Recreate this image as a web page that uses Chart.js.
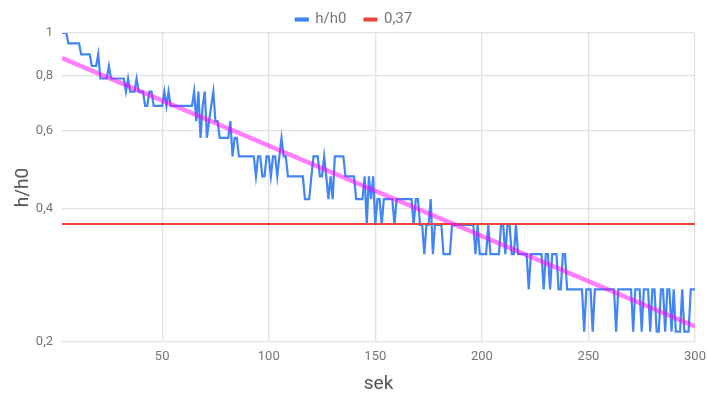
<!DOCTYPE html>
<html><head><meta charset="utf-8">
<script src="https://cdn.jsdelivr.net/npm/chart.js@4"></script>
<style>html,body{margin:0;padding:0;background:#fff}canvas{display:block}</style>
</head><body>
<canvas id="c" width="708" height="394"></canvas>
<script>
const sek = [
  3,4,5,6,7,8,9,10,11,12,
  13,14,15,16,17,18,19,20,21,22,
  23,24,25,26,27,28,29,30,31,32,
  33,34,35,36,37,38,39,40,41,42,
  43,44,45,46,47,48,49,50,51,52,
  53,54,55,56,57,58,59,60,61,62,
  63,64,65,66,67,68,69,70,71,72,
  73,74,75,76,77,78,79,80,81,82,
  83,84,85,86,87,88,89,90,91,92,
  93,94,95,96,97,98,99,100,101,102,
  103,104,105,106,107,108,109,110,111,112,
  113,114,115,116,117,118,119,120,121,122,
  123,124,125,126,127,128,129,130,131,132,
  133,134,135,136,137,138,139,140,141,142,
  143,144,145,146,147,148,149,150,151,152,
  153,154,155,156,157,158,159,160,161,162,
  163,164,165,166,167,168,169,170,171,172,
  173,174,175,176,177,178,179,180,181,182,
  183,184,185,186,187,188,189,190,191,192,
  193,194,195,196,197,198,199,200,201,202,
  203,204,205,206,207,208,209,210,211,212,
  213,214,215,216,217,218,219,220,221,222,
  223,224,225,226,227,228,229,230,231,232,
  233,234,235,236,237,238,239,240,241,242,
  243,244,245,246,247,248,249,250,251,252,
  253,254,255,256,257,258,259,260,261,262,
  263,264,265,266,267,268,269,270,271,272,
  273,274,275,276,277,278,279,280,281,282,
  283,284,285,286,287,288,289,290,291,292,
  293,294,295,296,297,298,299,300
];
const hh0 = [
  1,1,1,0.947,0.947,0.947,0.947,0.947,0.947,0.895,
  0.895,0.895,0.895,0.895,0.842,0.842,0.842,0.895,0.789,0.789,
  0.789,0.789,0.842,0.789,0.789,0.789,0.789,0.789,0.789,0.789,
  0.737,0.789,0.737,0.737,0.737,0.789,0.737,0.737,0.737,0.684,
  0.684,0.737,0.737,0.684,0.684,0.684,0.684,0.684,0.737,0.684,
  0.737,0.684,0.684,0.684,0.684,0.684,0.684,0.684,0.684,0.684,
  0.684,0.684,0.737,0.632,0.737,0.579,0.684,0.737,0.579,0.632,
  0.684,0.737,0.632,0.632,0.579,0.579,0.579,0.579,0.579,0.632,
  0.526,0.579,0.579,0.526,0.526,0.526,0.526,0.526,0.526,0.526,
  0.526,0.474,0.526,0.526,0.474,0.474,0.526,0.526,0.474,0.526,
  0.526,0.474,0.526,0.579,0.526,0.526,0.474,0.474,0.474,0.474,
  0.474,0.474,0.474,0.474,0.421,0.421,0.421,0.474,0.526,0.526,
  0.526,0.474,0.474,0.526,0.474,0.421,0.474,0.421,0.526,0.526,
  0.526,0.526,0.526,0.474,0.474,0.474,0.474,0.474,0.421,0.421,
  0.421,0.421,0.474,0.368,0.474,0.421,0.474,0.368,0.421,0.421,
  0.368,0.421,0.421,0.421,0.421,0.421,0.368,0.421,0.421,0.421,
  0.421,0.421,0.421,0.421,0.421,0.368,0.421,0.421,0.368,0.368,
  0.316,0.368,0.368,0.421,0.316,0.368,0.368,0.368,0.368,0.316,
  0.316,0.316,0.316,0.368,0.368,0.368,0.368,0.368,0.368,0.368,
  0.368,0.368,0.368,0.368,0.316,0.368,0.316,0.316,0.316,0.316,
  0.368,0.316,0.316,0.316,0.316,0.316,0.368,0.368,0.316,0.368,
  0.368,0.316,0.316,0.368,0.316,0.316,0.316,0.316,0.316,0.263,
  0.316,0.316,0.316,0.316,0.316,0.316,0.263,0.316,0.316,0.263,
  0.316,0.316,0.316,0.263,0.263,0.316,0.316,0.263,0.263,0.263,
  0.263,0.263,0.263,0.263,0.263,0.211,0.263,0.263,0.263,0.211,
  0.263,0.263,0.263,0.263,0.263,0.263,0.263,0.263,0.263,0.263,
  0.211,0.263,0.263,0.263,0.263,0.263,0.263,0.263,0.211,0.263,
  0.263,0.263,0.211,0.263,0.263,0.263,0.211,0.263,0.263,0.211,
  0.211,0.263,0.263,0.211,0.263,0.263,0.211,0.263,0.211,0.211,
  0.211,0.263,0.211,0.211,0.211,0.263,0.263,0.263
];
const refLevel = 0.37;
const refX = [3, 300];
const trendX = [3, 300];
const trendY = [0.878, 0.217];
const xTicks = [50, 100, 150, 200, 250, 300];
const yTicks = [0.2, 0.4, 0.6, 0.8, 1];
const yTickLabels = ['0,2', '0,4', '0,6', '0,8', '1'];
const seriesNames = ['h/h0', '0,37', 'Trendline'];

const shiftLegend = {
  id: 'shiftLegend',
  afterLayout(chart) {
    if (chart.legend) { chart.legend.top += 4; chart.legend.bottom += 4; }
  }
};

new Chart(document.getElementById('c'), {
  type: 'line',
  data: {
    datasets: [
      { label: seriesNames[0], data: sek.map((x, i) => ({ x: x, y: hh0[i] })),
        borderColor: '#4285f4', backgroundColor: '#4285f4', borderWidth: 2.2,
        pointRadius: 0, tension: 0, order: 3 },
      { label: seriesNames[1], data: refX.map(x => ({ x: x, y: refLevel })),
        borderColor: '#e8453c', backgroundColor: '#e8453c', borderWidth: 2,
        pointRadius: 0, order: 2 },
      { label: seriesNames[2], data: trendX.map((x, i) => ({ x: x, y: trendY[i] })),
        borderColor: 'rgba(255,0,255,0.5)', backgroundColor: 'rgba(255,0,255,0.5)', borderWidth: 4.5,
        pointRadius: 0, order: 1 }
    ]
  },
  plugins: [shiftLegend],
  options: {
    responsive: false, animation: false, devicePixelRatio: 1,
    layout: { padding: { top: -10, right: 0, left: 0, bottom: 0 } },
    plugins: {
      legend: {
        position: 'top',
        labels: {
          filter: (it) => it.datasetIndex !== 2,
          sort: (a, b) => a.datasetIndex - b.datasetIndex,
          boxWidth: 12, boxHeight: 2, padding: 18,
          color: '#757575', font: { family: 'Roboto', size: 15 }
        }
      },
      tooltip: { enabled: false }
    },
    scales: {
      x: {
        type: 'linear', min: 3, max: 300,
        afterBuildTicks: (s) => { s.ticks = xTicks.map(v => ({ value: v })); },
        afterFit: (s) => { s.height = 52; s.paddingRight = 13; s.paddingLeft = 0; },
        ticks: { autoSkip: false, maxRotation: 0, padding: 7, color: '#757575',
                 font: { family: 'Roboto', size: 13 } },
        grid: { color: '#e2e2e2', lineWidth: 1.3, drawTicks: false },
        border: { display: false },
        title: { display: true, text: 'sek', color: '#555555',
                 font: { family: 'Roboto', size: 19 }, padding: { top: 0, bottom: -2 } }
      },
      y: {
        type: 'logarithmic', min: 0.2, max: 1,
        afterBuildTicks: (s) => { s.ticks = yTicks.map(v => ({ value: v })); },
        afterFit: (s) => { s.width = 62; },
        ticks: { padding: 9, color: '#757575', font: { family: 'Roboto', size: 13 },
                 callback: (v, i) => yTickLabels[i] },
        grid: { color: '#e2e2e2', lineWidth: 1.3, drawTicks: false },
        border: { display: false },
        title: { display: true, text: 'h/h0', color: '#555555',
                 font: { family: 'Roboto', size: 19 }, padding: { top: 12, bottom: 0 } }
      }
    }
  }
});
</script>
</body></html>
